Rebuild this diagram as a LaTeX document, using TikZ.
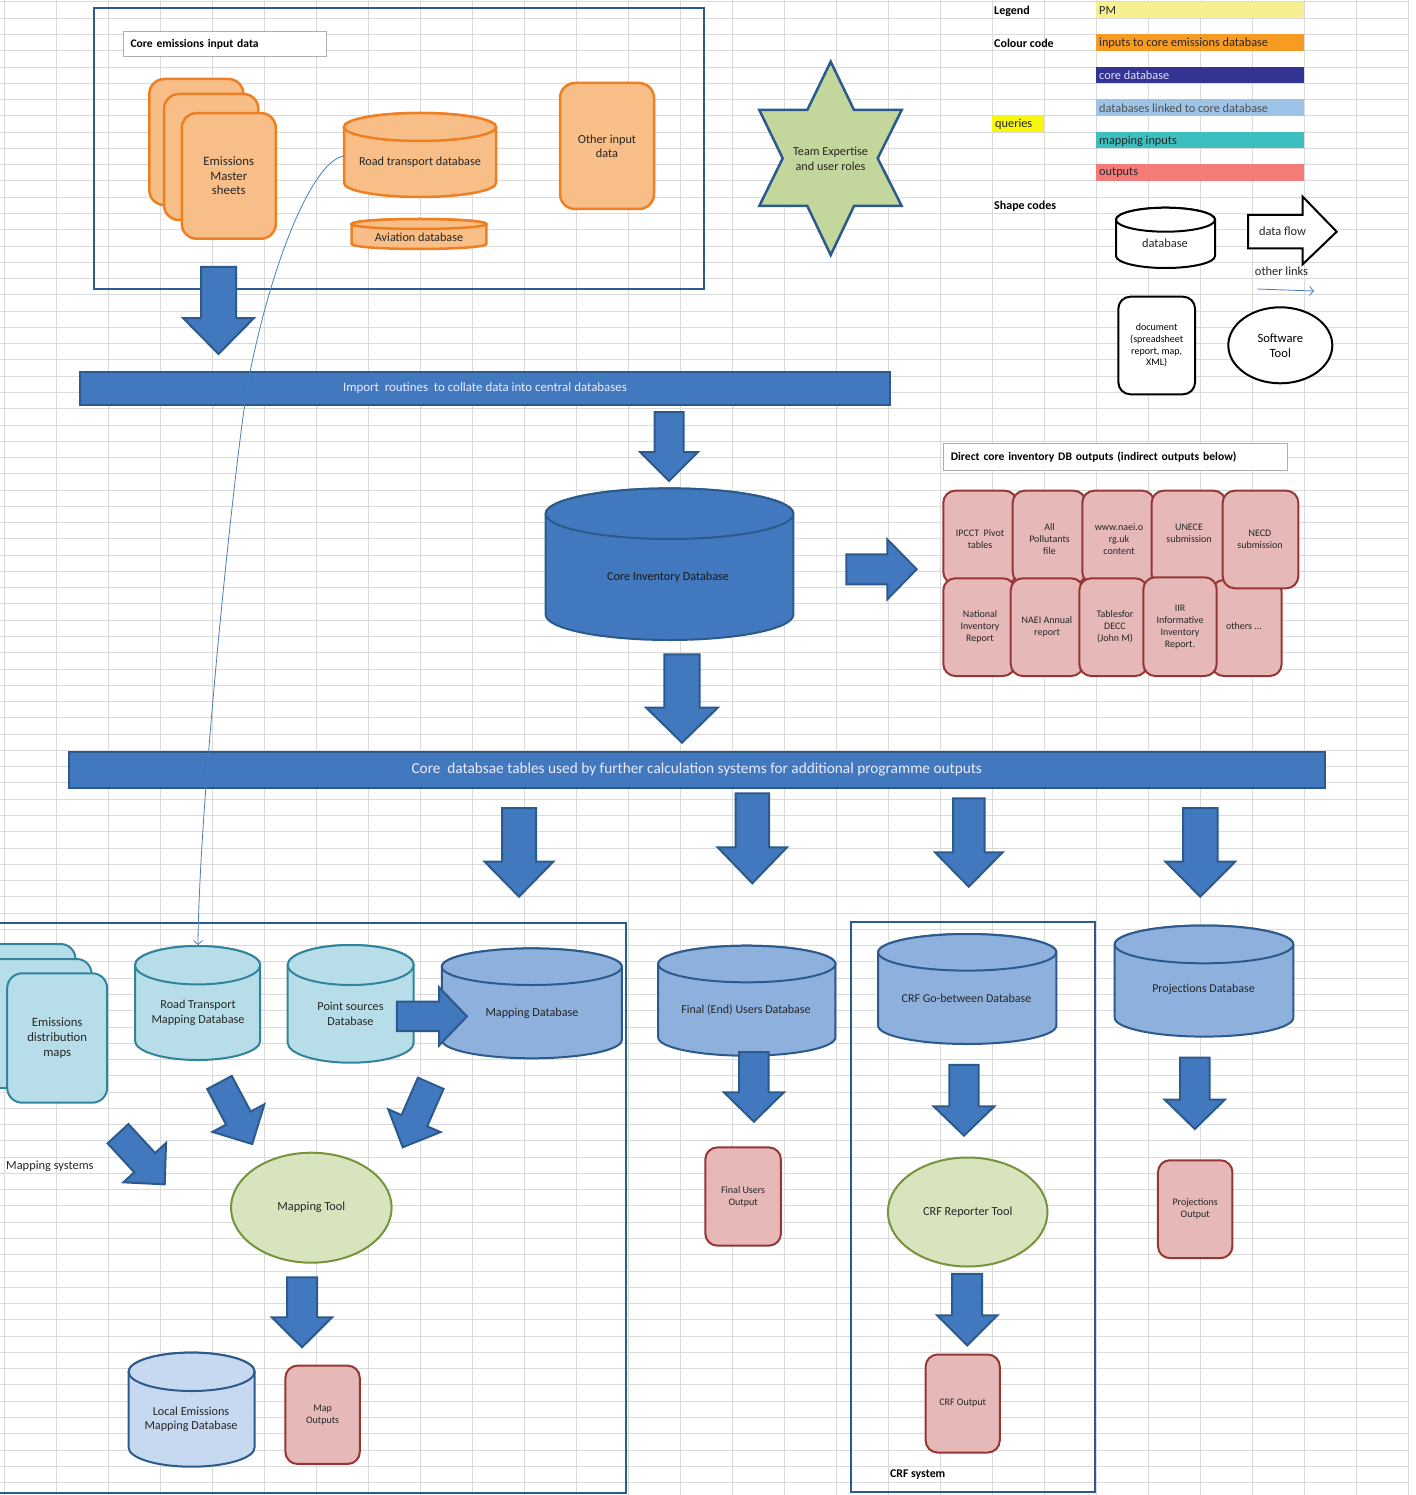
\documentclass[tikz,border=0pt]{standalone}
\usepackage{fontspec}
\setmainfont{Carlito}
\usetikzlibrary{arrows.meta,shapes.geometric}

% palette
\definecolor{gridc}{HTML}{DADADA}
\definecolor{frameblue}{HTML}{2D5B8D}
\definecolor{flowfill}{HTML}{4279BE}
\definecolor{flowline}{HTML}{2C5A8C}
\definecolor{orfill}{HTML}{F7BE88}
\definecolor{orline}{HTML}{EE7F22}
\definecolor{linkfill}{HTML}{8DB0DC}
\definecolor{tealfill}{HTML}{B7DEE8}
\definecolor{tealline}{HTML}{31849B}
\definecolor{localfill}{HTML}{C6D9F1}
\definecolor{outfill}{HTML}{E6B9B8}
\definecolor{outred}{HTML}{953735}
\definecolor{toolfill}{HTML}{D7E4BD}
\definecolor{toolline}{HTML}{77933C}
\definecolor{starfill}{HTML}{C3D69B}
\definecolor{txt}{HTML}{262626}
\definecolor{linkline}{HTML}{4A7EBB}
\definecolor{pmc}{HTML}{F6EF90}
\definecolor{inc}{HTML}{F79B23}
\definecolor{corec}{HTML}{343494}
\definecolor{linkc}{HTML}{9DC3E6}
\definecolor{qc}{HTML}{F7F70E}
\definecolor{mapc}{HTML}{3DBFBF}
\definecolor{outc}{HTML}{F37B78}

\tikzset{
  gridline/.style={draw=gridc, line width=1pt},
  boxframe/.style={draw=frameblue, line width=2pt},
  labelbox/.style={draw=gridc!80!black, fill=white, line width=1pt, align=left, anchor=north west,
                   inner xsep=7pt, inner ysep=0pt, text=black, font=\bfseries\fontsize{11.6}{13}\selectfont},
  lbl/.style={inner sep=0pt, align=center, text=txt, font=\fontsize{12.2}{14.5}\selectfont},
  midlbl/.style={lbl, font=\fontsize{12}{14}\selectfont},
  smalllbl/.style={lbl, font=\fontsize{10}{12}\selectfont},
  headlbl/.style={inner sep=0pt, anchor=west, text=black, font=\bfseries\fontsize{12}{14}\selectfont},
  barlbl/.style={inner sep=0pt, anchor=west, font=\fontsize{12.3}{14}\selectfont},
  keylbl/.style={lbl, font=\fontsize{12.4}{14}\selectfont},
  flowarrow/.style={fill=flowfill, draw=flowline, line width=2pt, line join=miter},
  orangedoc/.style={fill=orfill, draw=orline, line width=2.5pt, rounded corners=15pt},
  orangedb/.style={fill=orfill, draw=orline, line width=2.5pt},
  tealdoc/.style={fill=tealfill, draw=tealline, line width=2pt, rounded corners=15pt},
  tealdb/.style={fill=tealfill, draw=tealline, line width=2pt},
  coredb/.style={fill=flowfill, draw=flowline, line width=2pt},
  linkdb/.style={fill=linkfill, draw=flowline, line width=2pt},
  localdb/.style={fill=localfill, draw=flowline, line width=2pt},
  obox/.style={fill=outfill, draw=outred, line width=2pt, rounded corners=12pt},
  outnode/.style={obox, inner sep=0pt, align=center, text=txt, font=\fontsize{10}{12}\selectfont},
  toolshape/.style={ellipse, fill=toolfill, draw=toolline, line width=2pt, inner sep=0pt,
                    align=center, text=txt, font=\fontsize{12.3}{14}\selectfont},
  bluebar/.style={rectangle, fill=flowfill, draw=flowline, line width=2pt, inner sep=0pt, text=white!92!blue},
  keyshape/.style={draw=black, fill=white, line width=2pt},
  linkarrow/.style={draw=linkline, line width=0.8pt, -{Straight Barb[length=4pt,width=9pt]}},
}

% database cylinder: style, centre x, x radius, top y, bottom y, y radius
\newcommand{\dbcyl}[6]{%
  \path[#1] ({#2-#3},#4) -- ({#2-#3},#5)
     arc[start angle=180, end angle=360, x radius=#3pt, y radius=#6pt]
     -- ({#2+#3},#4)
     arc[start angle=0, end angle=180, x radius=#3pt, y radius=#6pt] -- cycle;
  \path[#1] (#2,#4) ellipse [x radius=#3pt, y radius=#6pt];
}

% block arrow: tail x, tail y, direction, length, shaft half width, head half width, head length
\newcommand{\flowshape}[7]{%
  \path[flowarrow, shift={(#1,#2)}, rotate=#3]
     (0pt,-#5pt) -- ({#4pt-#7pt},-#5pt) -- ({#4pt-#7pt},-#6pt) -- (#4pt,0pt)
     -- ({#4pt-#7pt},#6pt) -- ({#4pt-#7pt},#5pt) -- (0pt,#5pt) -- cycle;
}

\begin{document}
\begin{tikzpicture}[x=1pt, y=-1pt]
\useasboundingbox (0,0) rectangle (1415,1495);
\clip (0,0) rectangle (1415,1495);
\fill[white] (0,0) rectangle (1415,1495);

% worksheet grid
\foreach \k in {0,...,27} \draw[gridline] ({4+52*\k},0) -- ({4+52*\k},1495);
\foreach \k in {0,...,91} \draw[gridline] (0,{2+16.27*\k}) -- (1408,{2+16.27*\k});

% ---------------- core emissions input data ----------------
\draw[boxframe] (94,8) rectangle (704,289);
\node[labelbox, text width=189pt, minimum height=25pt] (inlbl) at (123,31) {Core emissions input data};

\path[orangedoc] (149.3,79) rectangle (243.4,205);
\path[orangedoc] (164,94) rectangle (258.4,220);
\node[orangedoc, minimum width=94pt, minimum height=125.7pt, inner sep=0pt, align=center,
      text=txt, font=\fontsize{12.8}{14.5}\selectfont] (ems) at (228.8,175.9) {Emissions\\Master\\sheets};

\dbcyl{orangedb}{420}{76}{127}{183}{14}
\node[lbl] (rtdb) at (420,162) {Road transport database};

\dbcyl{orangedb}{419}{67.4}{224}{244}{5}
\node[lbl] (avdb) at (419,237) {Aviation database};

\node[orangedoc, minimum width=94pt, minimum height=126pt, inner sep=0pt, align=center,
      text=txt, font=\fontsize{12.3}{14}\selectfont] (other) at (607,146) {Other input\\data};

% team expertise star
\path[fill=starfill, draw=flowline, line width=2.5pt, line join=miter]
  (830.7,61.7) -- (854,110) -- (901.7,110) -- (877.7,158.3) -- (901.7,206) -- (854,206)
  -- (830.7,255) -- (807.3,206) -- (759.3,206) -- (782.7,158.3) -- (759.3,110) -- (807.3,110) -- cycle;
\node[lbl, font=\fontsize{12.2}{15}\selectfont] (team) at (830.5,158.5) {Team Expertise\\and user roles};

% ---------------- legend ----------------
\node[headlbl] (lgd) at (994,11) {Legend};
\node[headlbl] (ccode) at (994,43) {Colour code};
\node[headlbl] (scode) at (994,206) {Shape codes};

\fill[pmc] (1096.3,2) rectangle (1304.3,18.3);
\node[barlbl, text=txt] (pm) at (1099,10.5) {PM};
\fill[inc] (1096.3,34.3) rectangle (1304.3,50.7);
\node[barlbl, text=txt] (cin) at (1099,43) {inputs to core emissions database};
\fill[corec] (1096.3,66.7) rectangle (1304.3,83.3);
\node[barlbl, text=white!88!blue] (ccore) at (1099,75.5) {core database};
\fill[linkc] (1096.3,99.3) rectangle (1304.3,115.7);
\node[barlbl, text=txt!80!white] (clink) at (1099,108) {databases linked to core database};
\fill[qc] (992.3,115.7) rectangle (1044.3,132);
\node[barlbl, text=txt] (cq) at (995,124.5) {queries};
\fill[mapc] (1096.3,132) rectangle (1304.3,148.3);
\node[barlbl, text=txt] (cmap) at (1099,141) {mapping inputs};
\fill[outc] (1096.3,164.3) rectangle (1304.3,181);
\node[barlbl, text=txt] (cout) at (1099,173) {outputs};

\dbcyl{keyshape}{1165.5}{49.5}{219.7}{256}{12}
\node[keylbl] (kdb) at (1165,243) {database};
\path[keyshape, line join=miter] (1248,215) -- (1302.7,215) -- (1302.7,196.7) -- (1336.7,231.7)
  -- (1302.7,264.3) -- (1302.7,248.3) -- (1248,248.3) -- cycle;
\node[keylbl] (kflow) at (1282.5,231.5) {data flow};
\node[keylbl] (klink) at (1281.5,271) {other links};
\coordinate (klink-a) at (1257,289);
\coordinate (klink-b) at (1314,291);
\draw[linkarrow] (klink-a) -- (klink-b);
\node[keyshape, rounded corners=12pt, minimum width=76.7pt, minimum height=97.6pt, inner sep=0pt,
      align=center, font=\fontsize{10}{11.7}\selectfont] (kdoc) at (1156.7,345.5)
      {document\\(spreadsheet\\report, map,\\XML)};
\node[keyshape, ellipse, minimum width=104pt, minimum height=76pt, inner sep=0pt, align=center,
      font=\fontsize{12.6}{15}\selectfont] (ktool) at (1280.3,345.3) {Software\\Tool};

% ---------------- import routines ----------------
\flowshape{218.5}{267}{-90}{87}{17.5}{35.5}{36}
\node[bluebar, minimum width=810pt, minimum height=33pt, font=\fontsize{12.9}{14}\selectfont]
  (importbar) at (485,388.5) {Import\ \ routines\ \ to collate data into central databases};
\flowshape{669}{412}{-90}{69}{14.5}{29}{29}

% ---------------- core inventory database ----------------
\dbcyl{coredb}{669.5}{123.8}{513.7}{614.7}{25.3}
\node[lbl, text=black!90] (coredbt) at (668,577) {Core Inventory Database};
\flowshape{846.3}{569.3}{0}{70.4}{15}{30}{29.4}
\flowshape{682}{654.3}{-90}{88.4}{17.7}{35.8}{35}

% ---------------- direct outputs ----------------
\node[labelbox, text width=330pt, minimum height=27.3pt] (dlbl) at (943.3,442.7)
  {Direct core inventory DB outputs (indirect outputs below)};

\path[obox] (943.3,490.7) rectangle (1016.7,584);
\path[obox] (1012.7,490.7) rectangle (1085.7,584);
\path[obox] (1082.3,490.7) rectangle (1154.3,584);
\path[obox] (1151.7,490.7) rectangle (1225.7,586.7);
\path[obox] (1211.7,580) rectangle (1281.7,676);
\path[obox] (943.3,578.3) rectangle (1015,676);
\path[obox] (1010.7,578.3) rectangle (1083.3,676);
\path[obox] (1079.3,578.3) rectangle (1147.3,676);
\path[obox] (1143.3,577.3) rectangle (1216.7,676);
\path[obox] (1222.7,490.7) rectangle (1298.3,588.3);

\node[smalllbl] (o1) at (980,539) {IPCCT\ \ Pivot\\tables};
\node[smalllbl] (o2) at (1049.5,539) {All\\Pollutants\\file};
\node[smalllbl] (o3) at (1119,539) {www.naei.o\\rg.uk\\content};
\node[smalllbl] (o4) at (1189,533) {UNECE\\submission};
\node[smalllbl] (o5) at (1260,539) {NECD\\submission};
\node[smalllbl] (o6) at (980,627) {National\\Inventory\\Report};
\node[smalllbl] (o7) at (1047,627) {NAEI Annual\\report};
\node[smalllbl] (o8) at (1115,627) {Tablesfor\\DECC\\(John M)};
\node[smalllbl] (o9) at (1180,627) {IIR\\Informative\\Inventory\\Report.};
\node[smalllbl] (o10) at (1244,626) {others ...};

% ---------------- core tables bar ----------------
\node[bluebar, minimum width=1256.4pt, minimum height=36pt, font=\fontsize{15.3}{17}\selectfont]
  (corebar) at (696.8,769.7) {Core\ \ databsae tables used by further calculation systems for additional programme outputs};
\flowshape{519}{808}{-90}{88.7}{17}{34.3}{35}
\flowshape{752.3}{793.3}{-90}{90}{16.7}{34.7}{36}
\flowshape{968.8}{798.3}{-90}{88.4}{15.8}{33.8}{34.4}
\flowshape{1200.3}{808}{-90}{88.7}{17.2}{34.8}{35}

% ---------------- mapping systems ----------------
\draw[boxframe] (-10,922.7) rectangle (625.5,1493);

\path[tealdoc] (-30,944) rectangle (75.5,1073);
\path[tealdoc] (-15,959) rectangle (91.6,1088);
\node[tealdoc, minimum width=100pt, minimum height=129.4pt, inner sep=0pt, align=center,
      text=txt, font=\fontsize{12.7}{15}\selectfont] (edm) at (57.2,1038) {Emissions\\distribution\\maps};

\dbcyl{tealdb}{197.6}{62.6}{965.2}{1040.8}{19.2}
\node[lbl] (rtmdb) at (198,1013) {Road Transport\\Mapping Database};
\dbcyl{tealdb}{350.7}{63}{965}{1042.7}{20}
\node[lbl] (psdb) at (350.5,1014) {Point sources\\Database};
\dbcyl{linkdb}{531.8}{90}{966.7}{1040}{18.3}
\node[lbl] (mapdb) at (532,1013) {Mapping Database};
\flowshape{396.8}{1016.4}{0}{70.2}{14.7}{29.2}{28}

\flowshape{219.5}{1082.5}{-62}{69.7}{13.9}{29.4}{29.4}
\flowshape{430.7}{1083.3}{-113.6}{69.8}{14}{28.5}{29}
\flowshape{118}{1133.7}{-47.3}{68.9}{14.2}{29}{29.5}

\node[inner sep=0pt, anchor=west, text=txt, font=\fontsize{12.4}{14}\selectfont] (mapsys) at (6,1166) {Mapping systems};

\node[toolshape, minimum width=160.6pt, minimum height=110pt] (maptool) at (311.3,1207.7) {Mapping Tool};
\flowshape{302}{1277.3}{-90}{70}{15}{30.1}{30}

\dbcyl{localdb}{191.6}{63}{1371.8}{1447.5}{19.2}
\node[lbl] (localdbt) at (191,1419.5) {Local Emissions\\Mapping Database};
\node[outnode, minimum width=74.3pt, minimum height=98.3pt] (mapout) at (322.6,1414.8) {Map\\Outputs};

% ---------------- final users ----------------
\dbcyl{linkdb}{746.8}{88.6}{964}{1037.4}{18.3}
\node[midlbl] (fudb) at (746,1010) {Final (End) Users Database};
\flowshape{753.9}{1052}{-90}{69.7}{14.7}{29.9}{29.3}
\node[outnode, minimum width=75.6pt, minimum height=98.2pt] (fuout) at (743.1,1196.5) {Final Users\\Output};

% ---------------- CRF system ----------------
\draw[boxframe] (851,922) rectangle (1095,1492);
\dbcyl{linkdb}{967.2}{89.1}{952.3}{1025.7}{18.3}
\node[midlbl] (crfdb) at (966.5,998) {CRF Go-between Database};
\flowshape{964}{1064.8}{-90}{70.8}{14.7}{30.4}{29.3}
\node[toolshape, minimum width=159.6pt, minimum height=109pt] (crftool) at (967.7,1212) {CRF Reporter Tool};
\flowshape{967.2}{1273.9}{-90}{71.5}{15}{30.2}{30.1}
\node[outnode, minimum width=74.1pt, minimum height=98pt] (crfout) at (962.7,1403.5) {CRF Output};
\node[headlbl, font=\bfseries\fontsize{11.8}{14}\selectfont] (crfsys) at (890,1475) {CRF system};

% ---------------- projections ----------------
\dbcyl{linkdb}{1204}{89.3}{944.4}{1017.7}{18.9}
\node[midlbl] (projdb) at (1203.5,989) {Projections Database};
\flowshape{1194.8}{1057.5}{-90}{71.5}{14.8}{30}{29.3}
\node[outnode, minimum width=74.5pt, minimum height=97.9pt] (projout) at (1195.2,1209.2) {Projections\\Output};

% ---------------- road transport link ----------------
\coordinate (rtdb-w) at (344,156);
\coordinate (rtmdb-n) at (198,945);
\draw[linkarrow] (rtdb-w) .. controls (315,160) and (275,250) .. (250,372)
  .. controls (237.5,433) and (199,800) .. (rtmdb-n);
\end{tikzpicture}
\end{document}
